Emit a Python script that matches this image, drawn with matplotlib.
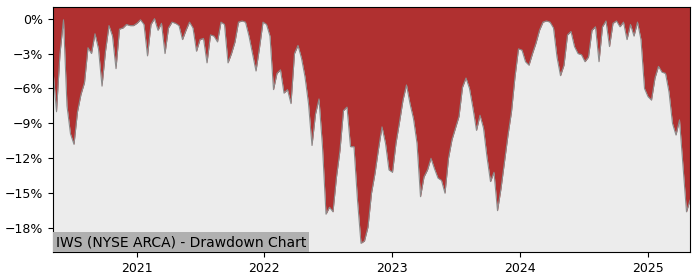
import pandas as pd
import matplotlib
matplotlib.use("Agg")
import matplotlib.pyplot as plt
from matplotlib.ticker import PercentFormatter
import matplotlib.dates as mdates

# drawdown (%), one value every 10 days
start_date = "2020-05-07"
step = "10D"
drawdown = [
    -4.4, -8.0, -3.0, -0.1, -7.5, -9.9, -10.8, -8.0, -6.5, -5.5,
    -2.5, -3.0, -1.3, -2.6, -5.8, -2.8, -0.6, -1.5, -4.3, -0.9,
    -0.8, -0.5, -0.6, -0.6, -0.4, -0.1, -0.5, -3.2, -0.5, 0.0,
    -1.0, -0.4, -3.0, -0.8, -0.3, -0.4, -0.6, -1.8, -1.0, -0.3,
    -0.8, -2.8, -1.8, -1.7, -3.8, -1.4, -1.5, -2.0, -0.3, -0.5,
    -3.8, -3.0, -2.0, -0.3, -0.2, -0.3, -1.5, -3.0, -4.5, -2.5,
    -0.3, -0.5, -1.5, -6.1, -4.7, -4.4, -6.4, -6.1, -7.3, -3.0,
    -2.3, -3.4, -5.0, -7.3, -10.9, -8.2, -6.9, -11.0, -16.8, -16.2,
    -16.6, -13.6, -11.3, -7.9, -7.6, -11.0, -11.0, -15.6, -19.3, -19.1,
    -17.9, -15.0, -13.3, -11.2, -9.3, -10.7, -13.0, -13.2, -10.7, -8.9,
    -7.0, -5.7, -7.3, -8.6, -10.7, -15.3, -13.6, -13.0, -12.0, -12.9,
    -13.7, -13.9, -15.0, -12.0, -10.4, -9.4, -8.4, -5.9, -5.1, -6.0,
    -7.7, -9.6, -8.3, -9.4, -11.9, -14.0, -13.2, -16.5, -14.6, -12.3,
    -10.0, -8.0, -5.0, -2.6, -2.7, -3.7, -4.0, -3.0, -2.1, -1.0,
    -0.3, -0.2, -0.3, -0.8, -3.3, -4.9, -4.0, -1.4, -1.1, -2.4,
    -3.0, -3.1, -3.7, -3.3, -1.0, -0.7, -3.7, -0.7, -0.2, -2.4,
    -0.4, -0.2, -0.7, -0.3, -1.8, -0.5, -1.5, -0.3, -1.8, -6.0,
    -6.7, -7.0, -5.1, -4.1, -4.6, -4.7, -6.3, -9.0, -10.0, -8.7,
    -12.7, -16.6, -15.6,
]
dates = pd.date_range(start_date, periods=len(drawdown), freq=step)
title = "IWS (NYSE ARCA) - Drawdown Chart"

y_top = 1.0
y_bottom = -20.05

fig = plt.figure(figsize=(7, 2.8), dpi=100)
ax = fig.add_axes([0.0757, 0.1, 0.91, 0.875])
ax.set_facecolor("#ececec")

ax.fill_between(dates, drawdown, y_top, color="#b03030", linewidth=0)
ax.plot(dates, drawdown, color="#8c8c8c", linewidth=0.8)

ax.set_xlim(dates[0], dates[-1])
ax.set_ylim(y_bottom, y_top)
ax.set_yticks([0, -3, -6, -9, -12, -15, -18])
ax.yaxis.set_major_formatter(PercentFormatter(100, decimals=0))
ax.xaxis.set_major_locator(mdates.YearLocator())
ax.xaxis.set_major_formatter(mdates.DateFormatter("%Y"))
ax.tick_params(labelsize=9)

ax.text(0.005, 0.012, title, transform=ax.transAxes, fontsize=10,
        ha="left", va="bottom",
        bbox=dict(facecolor="#b0b0b0", edgecolor="none", pad=2))

fig.savefig("out.png", dpi=100)
